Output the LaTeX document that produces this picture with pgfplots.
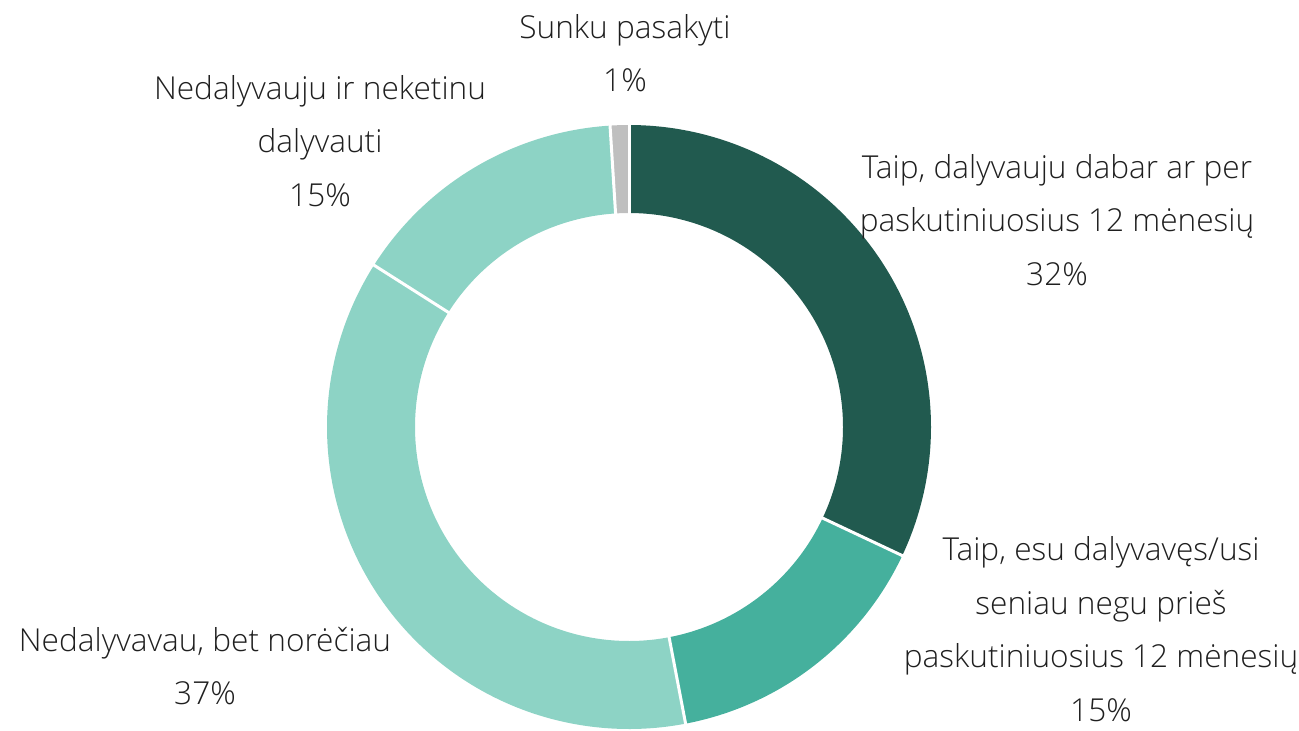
\documentclass[border=0pt]{standalone}
\usepackage{pgfplots}
\pgfplotsset{compat=1.18}
\usepgfplotslibrary{polar}
\usepackage{fontspec}
\setmainfont{Open Sans}[UprightFont={* Light}]
\definecolor{c1}{HTML}{215A4F}
\definecolor{c2}{HTML}{45B09D}
\definecolor{c3}{HTML}{8DD3C5}
\definecolor{c4}{HTML}{BFBFBF}
\definecolor{txt}{HTML}{1F1F1F}
\begin{document}
\begin{tikzpicture}[x=0.5pt,y=0.5pt]
\path[use as bounding box] (0,0) rectangle (1299,730);
\begin{polaraxis}[
  at={(629,303)}, anchor=center,
  scale only axis, width=302pt, height=302pt,
  hide axis, clip=false,
  xmin=0, xmax=360, ymin=0, ymax=302,
]
% segments: cumulative percentages, clockwise from the top
% Taip dabar 32, Taip seniau 15, Nedalyvavau bet noreciau 37, Nedalyvauju ir neketinu 15, Sunku 1
\addplot[c1, line width=44pt, domain={90-3.6*32}:{90-3.6*0}, samples=120] {258};
\addplot[c2, line width=44pt, domain={90-3.6*47}:{90-3.6*32}, samples=80] {258};
\addplot[c3, line width=44pt, domain={90-3.6*84}:{90-3.6*47}, samples=140] {258};
\addplot[c3, line width=44pt, domain={90-3.6*99}:{90-3.6*84}, samples=80] {258};
\addplot[c4, line width=44pt, domain={90-3.6*100}:{90-3.6*99}, samples=10] {258};
\addplot[white, line width=1.5pt] coordinates {(90,205) (90,310)};
\addplot[white, line width=1.5pt] coordinates {(-25.2,205) (-25.2,310)};
\addplot[white, line width=1.5pt] coordinates {(-79.2,205) (-79.2,310)};
\addplot[white, line width=1.5pt] coordinates {(-212.4,205) (-212.4,310)};
\addplot[white, line width=1.5pt] coordinates {(-266.4,205) (-266.4,310)};
\end{polaraxis}
\tikzset{lbl/.style={align=center, text=txt, font=\fontsize{15.8pt}{26.75pt}\selectfont, inner sep=0pt}}
\node[lbl] at (625,677) {Sunku pasakyti\\1\%};
\node[lbl] at (320,589) {Nedalyvauju ir neketinu\\dalyvauti\\15\%};
\node[lbl] at (1057,510) {Taip, dalyvauju dabar ar per\\paskutiniuosius 12 mėnesių\\32\%};
\node[lbl] at (1101,101) {Taip, esu dalyvavęs/usi\\seniau negu prieš\\paskutiniuosius 12 mėnesių\\15\%};
\node[lbl] at (205,64) {Nedalyvavau, bet norėčiau\\37\%};
\end{tikzpicture}
\end{document}
